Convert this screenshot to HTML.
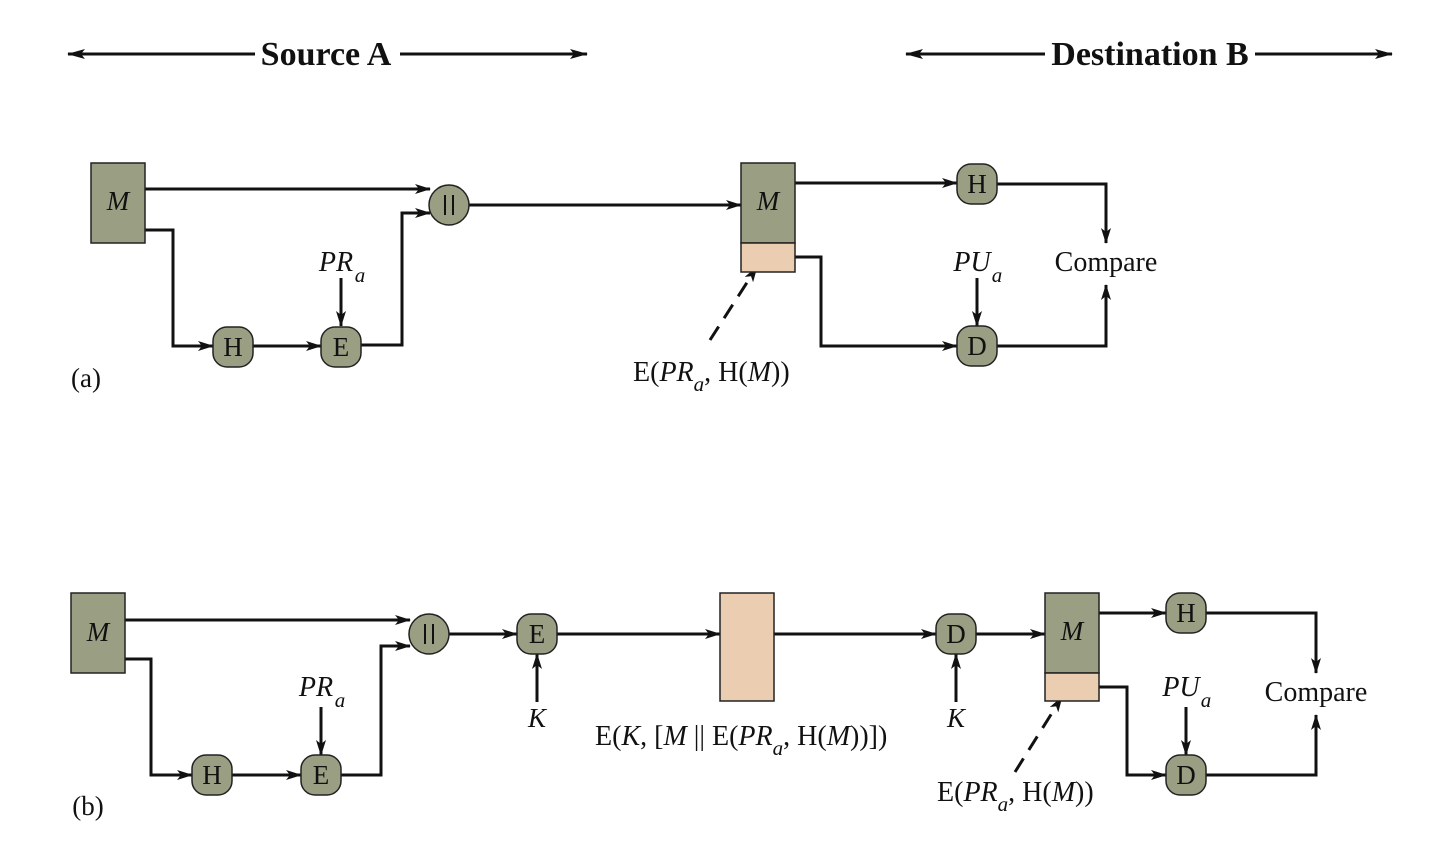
<!DOCTYPE html>
<html><head><meta charset="utf-8"><style>
html,body{margin:0;padding:0;background:#fff;}
svg{display:block;}
text{font-family:"Liberation Serif",serif;fill:#111;}
</style></head><body>
<svg width="1440" height="841" viewBox="0 0 1440 841" xmlns="http://www.w3.org/2000/svg">
<defs>
<marker id="ar" markerWidth="16" markerHeight="10" refX="15" refY="5" orient="auto" markerUnits="userSpaceOnUse" viewBox="0 0 16 10">
<path d="M0,0 L16,5 L0,10 L4,5 Z" fill="#111"/></marker>
<marker id="ar2" markerWidth="18" markerHeight="10" refX="17" refY="5" orient="auto" markerUnits="userSpaceOnUse" viewBox="0 0 18 10">
<path d="M0,0 L18,5 L0,10 L4,5 Z" fill="#111"/></marker>
</defs>
<g stroke="#111" stroke-width="3" fill="none">
<line x1="255" y1="54" x2="68" y2="54" marker-end="url(#ar2)"/>
<line x1="400" y1="54" x2="587" y2="54" marker-end="url(#ar2)"/>
<line x1="1045" y1="54" x2="906" y2="54" marker-end="url(#ar2)"/>
<line x1="1255" y1="54" x2="1392" y2="54" marker-end="url(#ar2)"/>
<!-- (a) -->
<line x1="145" y1="189" x2="430" y2="189" marker-end="url(#ar)"/>
<polyline points="145,230 173,230 173,346 213,346" marker-end="url(#ar)"/>
<line x1="253" y1="346" x2="321" y2="346" marker-end="url(#ar)"/>
<polyline points="361,345 402,345 402,213 430,213" marker-end="url(#ar)"/>
<line x1="469" y1="205" x2="741" y2="205" marker-end="url(#ar)"/>
<line x1="795" y1="183" x2="957" y2="183" marker-end="url(#ar)"/>
<polyline points="997,184 1106,184 1106,243" marker-end="url(#ar)"/>
<polyline points="795,257 821,257 821,346 957,346" marker-end="url(#ar)"/>
<polyline points="997,346 1106,346 1106,285" marker-end="url(#ar)"/>
<line x1="341" y1="278" x2="341" y2="326" marker-end="url(#ar)"/>
<line x1="977" y1="278" x2="977" y2="326" marker-end="url(#ar)"/>
<line x1="710" y1="340" x2="757" y2="267" stroke-dasharray="16,10" marker-end="url(#ar)"/>
<!-- (b) -->
<line x1="125" y1="620" x2="410" y2="620" marker-end="url(#ar)"/>
<polyline points="125,659 151,659 151,775 192,775" marker-end="url(#ar)"/>
<line x1="232" y1="775" x2="301" y2="775" marker-end="url(#ar)"/>
<polyline points="341,775 381,775 381,646 410,646" marker-end="url(#ar)"/>
<line x1="449" y1="634" x2="517" y2="634" marker-end="url(#ar)"/>
<line x1="557" y1="634" x2="720" y2="634" marker-end="url(#ar)"/>
<line x1="774" y1="634" x2="936" y2="634" marker-end="url(#ar)"/>
<line x1="976" y1="634" x2="1045" y2="634" marker-end="url(#ar)"/>
<line x1="1099" y1="613" x2="1166" y2="613" marker-end="url(#ar)"/>
<polyline points="1206,613 1316,613 1316,673" marker-end="url(#ar)"/>
<polyline points="1099,687 1127,687 1127,775 1166,775" marker-end="url(#ar)"/>
<polyline points="1206,775 1316,775 1316,715" marker-end="url(#ar)"/>
<line x1="321" y1="707" x2="321" y2="755" marker-end="url(#ar)"/>
<line x1="1186" y1="707" x2="1186" y2="755" marker-end="url(#ar)"/>
<line x1="537" y1="702" x2="537" y2="654" marker-end="url(#ar)"/>
<line x1="956" y1="702" x2="956" y2="654" marker-end="url(#ar)"/>
<line x1="1015" y1="772" x2="1062" y2="697" stroke-dasharray="16,10" marker-end="url(#ar)"/>
</g>
<g stroke="#222" stroke-width="1.5">
<rect x="91" y="163" width="54" height="80" fill="#9a9e82"/>
<rect x="741" y="163" width="54" height="80" fill="#9a9e82"/>
<rect x="741" y="243" width="54" height="29" fill="#ebcdb2"/>
<rect x="71" y="593" width="54" height="80" fill="#9a9e82"/>
<rect x="720" y="593" width="54" height="108" fill="#ebcdb2"/>
<rect x="1045" y="593" width="54" height="80" fill="#9a9e82"/>
<rect x="1045" y="673" width="54" height="28" fill="#ebcdb2"/>
<rect x="213" y="327" width="40" height="40" rx="14" fill="#9a9e82"/>
<rect x="321" y="327" width="40" height="40" rx="14" fill="#9a9e82"/>
<circle cx="449" cy="205" r="20" fill="#9a9e82"/>
<rect x="957" y="164" width="40" height="40" rx="14" fill="#9a9e82"/>
<rect x="957" y="326" width="40" height="40" rx="14" fill="#9a9e82"/>
<rect x="192" y="755" width="40" height="40" rx="14" fill="#9a9e82"/>
<rect x="301" y="755" width="40" height="40" rx="14" fill="#9a9e82"/>
<circle cx="429" cy="634" r="20" fill="#9a9e82"/>
<rect x="517" y="614" width="40" height="40" rx="14" fill="#9a9e82"/>
<rect x="936" y="614" width="40" height="40" rx="14" fill="#9a9e82"/>
<rect x="1166" y="593" width="40" height="40" rx="14" fill="#9a9e82"/>
<rect x="1166" y="755" width="40" height="40" rx="14" fill="#9a9e82"/>
</g>
<g stroke="#111" stroke-width="2">
<line x1="445" y1="195" x2="445" y2="215"/><line x1="453" y1="195" x2="453" y2="215"/>
<line x1="425" y1="624" x2="425" y2="644"/><line x1="433" y1="624" x2="433" y2="644"/>
</g>
<g font-size="27" text-anchor="middle">
<text x="326" y="65" font-weight="bold" font-size="34">Source A</text>
<text x="1150" y="65" font-weight="bold" font-size="34">Destination B</text>
<text x="118" y="210" font-style="italic">M</text>
<text x="768" y="210" font-style="italic">M</text>
<text x="98" y="641" font-style="italic">M</text>
<text x="1072" y="640" font-style="italic">M</text>
<text x="233" y="356">H</text><text x="341" y="356">E</text>
<text x="977" y="193">H</text><text x="977" y="355">D</text>
<text x="212" y="784">H</text><text x="321" y="784">E</text>
<text x="537" y="643">E</text><text x="956" y="643">D</text>
<text x="1186" y="622">H</text><text x="1186" y="784">D</text>
<text x="1106" y="271" font-size="28">Compare</text>
<text x="1316" y="701" font-size="28">Compare</text>
<text x="336" y="271" font-style="italic" font-size="28">PR</text><text x="360" y="282" font-style="italic" font-size="21">a</text>
<text x="972" y="271" font-style="italic" font-size="28">PU</text><text x="997" y="282" font-style="italic" font-size="21">a</text>
<text x="316" y="696" font-style="italic" font-size="28">PR</text><text x="340" y="707" font-style="italic" font-size="21">a</text>
<text x="1181" y="696" font-style="italic" font-size="28">PU</text><text x="1206" y="707" font-style="italic" font-size="21">a</text>
<text x="537" y="727" font-style="italic">K</text>
<text x="956" y="727" font-style="italic">K</text>
<text x="86" y="387">(a)</text>
<text x="88" y="815">(b)</text>
</g>
<g font-size="28">
<text x="633" y="381">E(<tspan font-style="italic">PR</tspan><tspan font-style="italic" font-size="21" dy="10">a</tspan><tspan dy="-10">, H(</tspan><tspan font-style="italic">M</tspan>))</text>
<text x="937" y="801">E(<tspan font-style="italic">PR</tspan><tspan font-style="italic" font-size="21" dy="10">a</tspan><tspan dy="-10">, H(</tspan><tspan font-style="italic">M</tspan>))</text>
<text x="595" y="745">E(<tspan font-style="italic">K</tspan>, [<tspan font-style="italic">M</tspan> || E(<tspan font-style="italic">PR</tspan><tspan font-style="italic" font-size="21" dy="10">a</tspan><tspan dy="-10">, H(</tspan><tspan font-style="italic">M</tspan>))])</text>
</g>
</svg>
</body></html>
